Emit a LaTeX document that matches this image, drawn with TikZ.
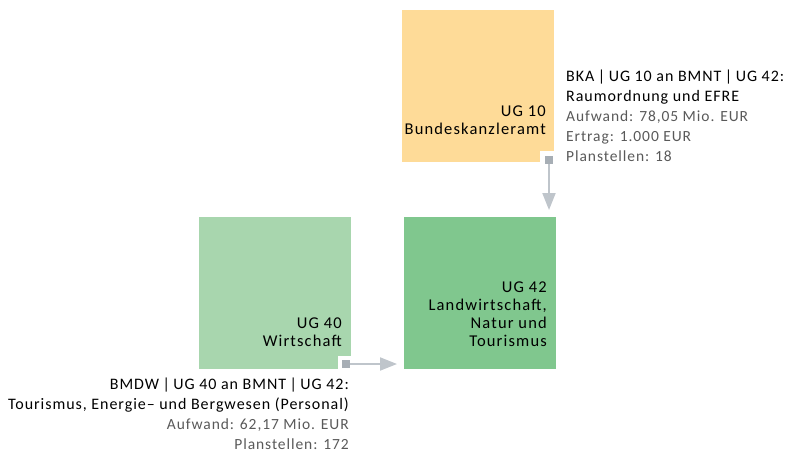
\documentclass[tikz,border=0pt]{standalone}
\usepackage{fontspec}
\setmainfont{Carlito}
\newfontfamily\sidefont[LetterSpace=6]{Carlito}
\newfontfamily\boxfont[LetterSpace=7]{Carlito}
\newcommand{\ugbar}{\kern3.5pt|\kern3.5pt}
\newcommand{\headsize}{\fontsize{16}{20}\selectfont}
\usetikzlibrary{arrows.meta,calc}
\definecolor{ugorange}{HTML}{FEDB98}
\definecolor{uglight}{HTML}{A8D6AE}
\definecolor{uggreen}{HTML}{80C78E}
\definecolor{connline}{HTML}{BFC5CB}
\definecolor{connsq}{HTML}{A7AEB5}
\definecolor{txtgray}{HTML}{595959}
\begin{document}
\begin{tikzpicture}[x=1pt,y=-1pt,
  ugbox/.style={draw=none, minimum width=152pt, minimum height=152pt, inner sep=0pt, outer sep=0pt, anchor=north west},
  uglabel/.style={inner sep=0pt, anchor=south east, align=right, text=black, font=\boxfont\fontsize{16.5}{18}\selectfont},
  sidetext/.style={inner sep=0pt, align=#1, font=\sidefont\fontsize{15.5}{20}\selectfont},
  notch/.style={fill=white},
  connsquare/.style={fill=connsq, minimum size=8pt, inner sep=0pt, outer sep=0pt},
  connarrow/.style={draw=connline, line width=2pt, -{Triangle[length=17pt,width=13pt]}, shorten >=7pt}
]
\useasboundingbox (0,0) rectangle (794,458);
% boxes
\node[ugbox, fill=ugorange] (ug10) at (402,10) {};
\node[ugbox, fill=uglight] (ug40) at (199,217) {};
\node[ugbox, fill=uggreen] (ug42) at (404,217) {};
% notches
\fill[notch] ($(ug10.south east)+(-14,-11)$) rectangle (ug10.south east);
\fill[notch] ($(ug40.south east)+(-13,-13)$) rectangle (ug40.south east);
% labels
\node[uglabel] (ug10t) at (546,135) {UG 10\\Bundeskanzleramt};
\node[uglabel] (ug40t) at (342,347) {UG 40\\Wirtschaft};
\node[uglabel] (ug42t) at (547,347) {UG 42\\Landwirtschaft,\\Natur und\\Tourismus};
% connectors
\node[connsquare] (s10) at (549,159.5) {};
\node[connsquare] (s40) at (346,364) {};
\draw[connarrow] (s10.south) -- (ug42.north -| s10);
\draw[connarrow] (s40.east) -- (ug42.west |- s40);
% side texts
\node[sidetext=left, anchor=south west] (t10) at (566,162) {{\headsize BKA\ugbar UG 10 an BMNT\ugbar UG 42:}\\{\headsize Raumordnung und EFRE}\\\textcolor{txtgray}{Aufwand: 78,05 Mio. EUR}\\\textcolor{txtgray}{Ertrag: 1.000 EUR}\\\textcolor{txtgray}{Planstellen: 18}};
\node[sidetext=right, anchor=south east] (t40) at (349,450) {{\headsize BMDW\ugbar UG 40 an BMNT\ugbar UG 42:}\\{\headsize Tourismus, Energie– und Bergwesen (Personal)}\\\textcolor{txtgray}{Aufwand: 62,17 Mio. EUR}\\\textcolor{txtgray}{Planstellen: 172}};
\end{tikzpicture}
\end{document}
